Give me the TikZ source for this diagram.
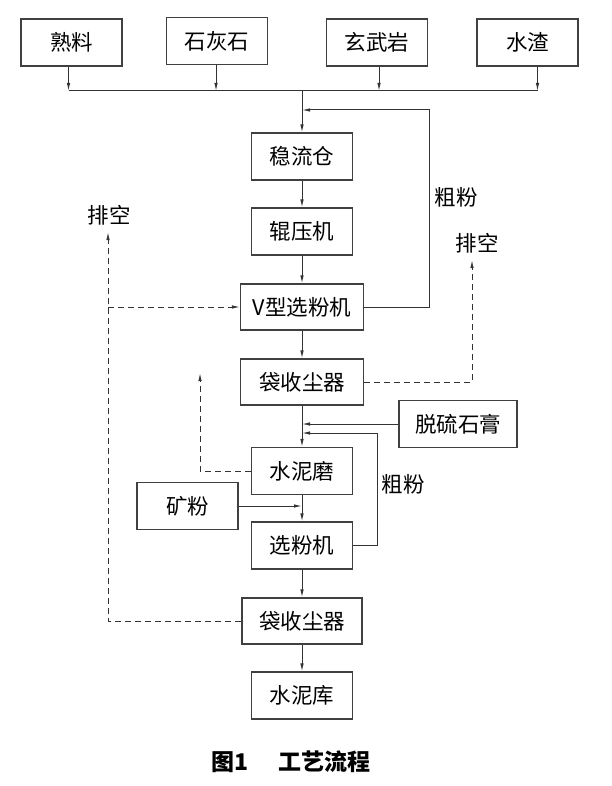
\documentclass[tikz,border=0pt]{standalone}
\usepackage{fontspec}
\setmainfont{Noto Sans CJK SC}
\usetikzlibrary{arrows.meta}

\begin{document}
\begin{tikzpicture}[x=1pt, y=-1pt, line width=1pt, draw=black!80,
  lbl/.style={inner sep=0pt, font=\fontsize{21.5}{24}\selectfont},
  dsh/.style={dash pattern=on 6pt off 4pt},
  >={Latex[length=8pt,width=3.5pt]}]
\tikzstyle{box}=[draw=black!75, line width=1.1pt, inner sep=0pt, minimum width=101pt, minimum height=47pt, font=\fontsize{21.5}{24}\selectfont]
\tikzstyle{wide}=[box, minimum width=123pt, minimum height=46pt]
\useasboundingbox (0,0) rectangle (612,786);
% raw materials
\node[box] (shu) at (71.5,42.5){熟料};
\node[box] (shi) at (217,41){石灰石};
\node[box] (xuan) at (377,42.5){玄武岩};
\node[box] (zha) at (527.5,42.5){水渣};
\coordinate (bus) at (302,91);
\foreach \n/\d in {shu/-3,shi/-1,xuan/2,zha/10}{\draw[->] ([xshift=\d pt]\n.south) -- ([xshift=\d pt]\n.south |- bus);}
\draw ([xshift=-3pt]shu.south |- bus) -- ([xshift=10pt]zha.south |- bus);
% main line
\node[box] (wen) at (302,156.5){稳流仓};
\node[box] (gun) at (302,231.5){辊压机};
\node[wide] (vx) at (302,307){V型选粉机};
\node[wide] (dc1) at (302,382){袋收尘器};
\node[box] (mill) at (302,471){水泥磨};
\node[box] (sel) at (302,545.5){选粉机};
\node[wide, minimum width=120pt] (dc2) at (302,621){袋收尘器};
\node[box] (ku) at (302,695.5){水泥库};
\draw[->] (bus) -- (wen);
\foreach \i/\j in {wen/gun,gun/vx,vx/dc1,dc1/mill,mill/sel,sel/dc2,dc2/ku}{\draw[->] (\i) -- (\j);}
% side feeds
\node[box, minimum width=118pt] (tl) at (458,424){脱硫石膏};
\node[box] (kf) at (187.5,506){矿粉};
\draw[->] (tl.west) -- (tl.west -| mill.north);
\draw[->] (kf.east) -- (kf.east -| sel.north);
% coarse powder returns
\coordinate (fb1) at (302,110);
\coordinate (c1) at (429,110);
\draw[->] (vx.east) -| (c1) -- (fb1);
\node[lbl] (cf1) at (456,197){粗粉};
\coordinate (fb2) at (302,433);
\coordinate (c2) at (377,433);
\draw[->] (sel.east) -| (c2) -- (fb2);
\node[lbl] (cf2) at (403,484){粗粉};
% exhaust
\node[lbl] (pk1) at (109,215){排空};
\node[lbl] (pk2) at (477,243){排空};
\coordinate (t1) at (108,232);
\coordinate (t2) at (472,260);
\coordinate (t3) at (200,373);
\draw[dsh, ->] (dc2.west) -| (t1);
\draw[dsh, ->] (t1 |- vx.west) -- (vx.west);
\draw[dsh, ->] (dc1.east) -| (t2);
\draw[dsh, ->] (mill.west) -| (t3);
% caption
\node[inner sep=0pt, font=\fontsize{23}{26}\selectfont\bfseries] (cap) at (291,762){图1\hspace{1.3em}工艺流程};
\end{tikzpicture}
\end{document}
